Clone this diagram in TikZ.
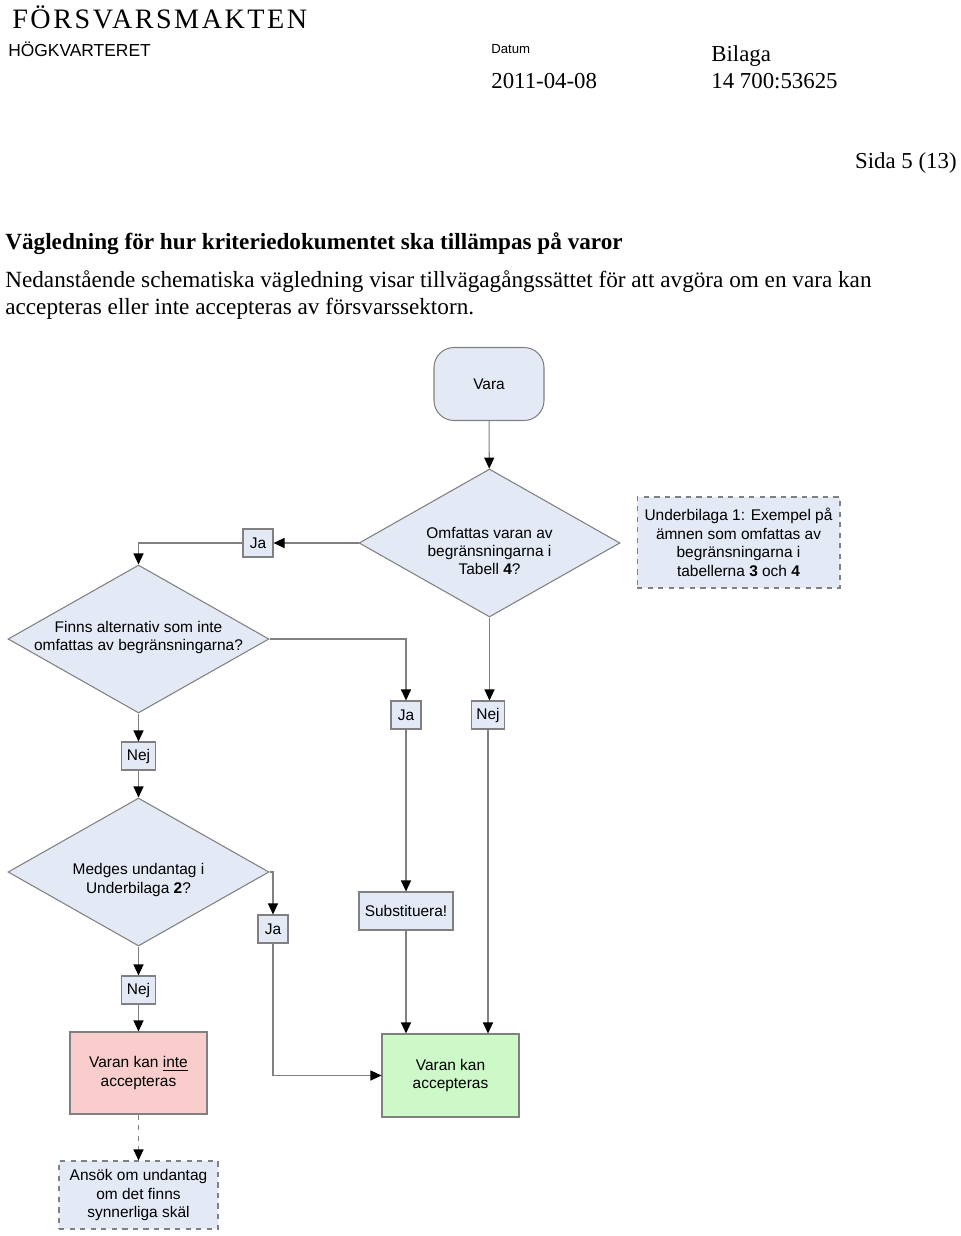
\documentclass[tikz,border=0pt]{standalone}
\usepackage{fontspec}
\setmainfont{Liberation Serif}
\newfontfamily\arial{Liberation Sans}
\usetikzlibrary{shapes.geometric,arrows.meta}
\definecolor{ljusbla}{RGB}{227,233,245}
\definecolor{ljusrod}{RGB}{248,205,204}
\definecolor{ljusgron}{RGB}{205,248,200}
\definecolor{linje}{RGB}{128,128,128}

\begin{document}
\begin{tikzpicture}[x=0.02cm,y=-0.02cm,
    txt/.style={inner sep=0pt, anchor=base west},
    flodtext/.style={inner sep=0pt, align=center, font=\arial\fontsize{8.8}{10.5}\selectfont},
    ruta/.style={flodtext, draw=linje, fill=ljusbla, line width=0.6pt},
    fraga/.style={diamond, draw=linje, fill=ljusbla, line width=0.6pt, minimum width=5.22cm, minimum height=2.96cm, inner sep=0pt},
    svar/.style={ruta, minimum height=0.56cm, minimum width=0.6cm, inner xsep=3pt},
    flode/.style={draw=linje, line width=0.6pt, -{Triangle[length=0.22cm,width=0.2cm,color=black]}}]

    \useasboundingbox (0,0) rectangle (960,1236);

    \node[txt] (myndighet) at (12,29) {\fontsize{16}{18}\selectfont\addfontfeatures{LetterSpace=9}FÖRSVARSMAKTEN};
    \node[txt] (hkv) at (8,57) {\arial\fontsize{9.9}{11}\selectfont HÖGKVARTERET};
    \node[txt] (datum) at (491,54) {\arial\fontsize{7.5}{9}\selectfont Datum};
    \node[txt] (bilaga) at (711,62) {\fontsize{13}{15}\selectfont Bilaga};
    \node[txt] (datumvarde) at (491,89) {\fontsize{13}{15}\selectfont 2011-04-08};
    \node[txt] (bilagavarde) at (711,89) {\fontsize{13}{15}\selectfont 14 700:53625};
    \node[inner sep=0pt, anchor=base east] (sida) at (957,169) {\fontsize{13}{15}\selectfont Sida 5 (13)};
    \node[txt] (rubrik) at (5,250) {\fontsize{13.2}{15}\selectfont\bfseries Vägledning för hur kriteriedokumentet ska tillämpas på varor};
    \node[txt] (stycke1) at (5,288) {\fontsize{13.2}{15}\selectfont Nedanstående schematiska vägledning visar tillvägagångssättet för att avgöra om en vara kan};
    \node[txt] (stycke2) at (5,315) {\fontsize{13.2}{15}\selectfont accepteras eller inte accepteras av försvarssektorn.};

    \node[ruta, rounded corners=0.4cm, minimum width=2.2cm, minimum height=1.46cm] (vara) at (489,384) {Vara};
    \node[fraga] (omfattas) at (489.5,543) {};
    \node[flodtext] (omfattastext) at (489.5,551) {Omfattas varan av\\begränsningarna i\\Tabell \textbf{4}?};
    \node[ruta, dashed, minimum width=4.06cm, minimum height=1.82cm] (underbilaga1) at (738.5,542.5) {Underbilaga 1: Exempel på\\ämnen som omfattas av\\begränsningarna i\\tabellerna \textbf{3} och \textbf{4}};
    \node[svar] (ja1) at (258,543) {Ja};

    \node[fraga] (finns) at (138.5,639) {};
    \node[flodtext] (finnstext) at (138.5,637.5) {Finns alternativ som inte\\omfattas av begränsningarna?};
    \node[svar] (ja2) at (406,715) {Ja};
    \node[svar] (nej1) at (488,715) {Nej};
    \node[svar] (nej2) at (138.5,756) {Nej};

    \node[fraga] (medges) at (138.5,872) {};
    \node[flodtext] (medgestext) at (138.5,880) {Medges undantag i\\Underbilaga \textbf{2}?};
    \node[svar] (ja3) at (273,929) {Ja};
    \node[ruta, minimum width=1.88cm, minimum height=0.76cm] (substituera) at (406,911) {Substituera!};
    \node[svar] (nej3) at (138.5,990) {Nej};

    \node[ruta, fill=ljusrod, minimum width=2.74cm, minimum height=1.64cm] (inte) at (138.5,1073) {Varan kan \underline{inte}\\accepteras};
    \node[ruta, fill=ljusgron, minimum width=2.74cm, minimum height=1.66cm] (kan) at (450.5,1075.5) {Varan kan\\accepteras};
    \node[ruta, dashed, minimum width=3.18cm, minimum height=1.36cm] (ansok) at (138.5,1195) {Ansök om undantag\\om det finns\\synnerliga skäl};

    \draw[flode] (vara) -- (omfattas);
    \draw[flode] (omfattas.west) -- (ja1);
    \draw[flode] (ja1) -| (finns.north);
    \draw[flode] (finns.east) -| (ja2.north);
    \draw[flode] (omfattas.south) -- (omfattas.south |- nej1.north);
    \draw[flode] (finns.south) -- (nej2);
    \draw[flode] (nej2) -- (medges.north);
    \draw[flode] (medges.east) -| (ja3.north);
    \draw[flode] (ja3) |- (kan.west);
    \draw[flode] (ja2) -- (substituera);
    \draw[flode] (substituera) -- (substituera.south |- kan.north);
    \draw[flode] (nej1) -- (nej1.south |- kan.north);
    \draw[flode] (medges.south) -- (nej3);
    \draw[flode] (nej3) -- (inte);
    \draw[flode, dashed] (inte) -- (ansok);
\end{tikzpicture}
\end{document}
